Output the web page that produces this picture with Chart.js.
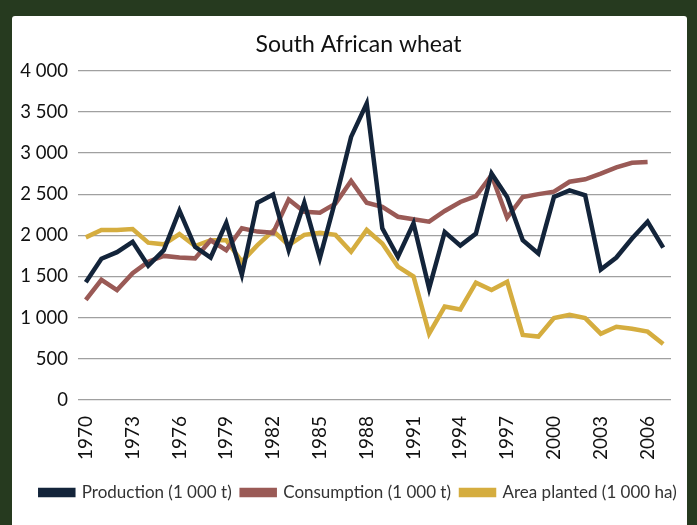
<!DOCTYPE html>
<html>
<head>
<meta charset="utf-8">
<script src="https://cdn.jsdelivr.net/npm/chart.js@4.4.1/dist/chart.umd.min.js"></script>
<style>
  html, body { margin: 0; padding: 0; }
  body { width: 697px; height: 525px; background: #263a1f; position: relative; overflow: hidden; }
  #panel { position: absolute; left: 12px; top: 16px; width: 675px; height: 520px; background: #fff; border-radius: 3px; }
  #wrap { position: absolute; left: 0; top: 0; width: 685px; height: 509px; }
</style>
</head>
<body>
<div id="panel"><div id="wrap"><canvas id="wheatChart"></canvas></div></div>
<script>
const years = [];
for (let y = 1970; y <= 2007; y++) years.push(String(y));

// values in 1 000 t / 1 000 ha
const production = [1430, 1715, 1795, 1920, 1630, 1820, 2300, 1860, 1730, 2150, 1520, 2395, 2495, 1820, 2395, 1725, 2430, 3195, 3600, 2085, 1740, 2145, 1355, 2040, 1875, 2020, 2750, 2465, 1940, 1780, 2465, 2545, 2485, 1585, 1730, 1960, 2165, 1850];
const consumption = [1215, 1460, 1335, 1540, 1680, 1750, 1730, 1720, 1940, 1820, 2085, 2045, 2030, 2435, 2285, 2275, 2385, 2660, 2395, 2345, 2225, 2195, 2165, 2295, 2405, 2475, 2730, 2215, 2465, 2500, 2530, 2650, 2680, 2750, 2825, 2880, 2890, null];
const areaPlanted = [1975, 2065, 2065, 2075, 1910, 1890, 2015, 1870, 1940, 1940, 1680, 1880, 2055, 1880, 2005, 2030, 2005, 1800, 2065, 1900, 1620, 1500, 805, 1135, 1100, 1425, 1335, 1435, 790, 770, 995, 1035, 995, 805, 890, 865, 830, 680];

const fontFamily = "Lato, 'Open Sans', sans-serif";

function spaced(v) {
    return String(v).replace(/\B(?=(\d{3})+(?!\d))/g, " ");
}

const ctx = document.getElementById("wheatChart").getContext("2d");
new Chart(ctx, {
    type: "line",
    data: {
        labels: years,
        datasets: [{
            label: "Production (1 000 t)",
            data: production,
            borderColor: "#13243a",
            backgroundColor: "#13243a"
        }, {
            label: "Consumption (1 000 t)",
            data: consumption,
            borderColor: "#9a5a56",
            backgroundColor: "#9a5a56"
        }, {
            label: "Area planted (1 000 ha)",
            data: areaPlanted,
            borderColor: "#d5ad3f",
            backgroundColor: "#d5ad3f"
        }]
    },
    options: {
        responsive: true,
        maintainAspectRatio: false,
        animation: false,
        layout: { padding: { left: 8, right: 0, top: 0, bottom: 14 } },
        elements: {
            line: { borderWidth: 4.5, tension: 0, borderJoinStyle: "miter" },
            point: { radius: 0 }
        },
        plugins: {
            title: {
                display: true,
                text: "South African wheat",
                color: "#111",
                font: { family: fontFamily, size: 23, weight: "normal" },
                padding: { top: 15, bottom: 12 }
            },
            legend: {
                position: "bottom",
                labels: {
                    color: "#333",
                    font: { family: fontFamily, size: 17 },
                    boxWidth: 33,
                    boxHeight: 5,
                    padding: 10
                }
            },
            tooltip: { enabled: false }
        },
        scales: {
            x: {
                offset: true,
                grid: { display: false },
                border: { display: false },
                afterFit: function (scale) { scale.height = 74; },
                ticks: {
                    autoSkip: false,
                    maxRotation: 90,
                    minRotation: 90,
                    padding: 8,
                    color: "#111",
                    font: { family: fontFamily, size: 19 },
                    callback: function (value, index) {
                        return index % 3 === 0 ? this.getLabelForValue(value) : "";
                    }
                }
            },
            y: {
                min: 0,
                max: 4000,
                afterFit: function (scale) { scale.width = 58; },
                border: { display: false },
                grid: { color: "#a0a0a0", lineWidth: 1.2, drawTicks: false },
                ticks: {
                    stepSize: 500,
                    padding: 10,
                    color: "#111",
                    font: { family: fontFamily, size: 18.5 },
                    callback: function (value) { return spaced(value); }
                }
            },
            // empty right-hand axis, only keeps space on the right of the plot
            yRight: {
                position: "right",
                grid: { display: false },
                border: { display: false },
                ticks: { display: false },
                afterFit: function (scale) { scale.width = 26; }
            }
        }
    }
});
</script>
</body>
</html>
